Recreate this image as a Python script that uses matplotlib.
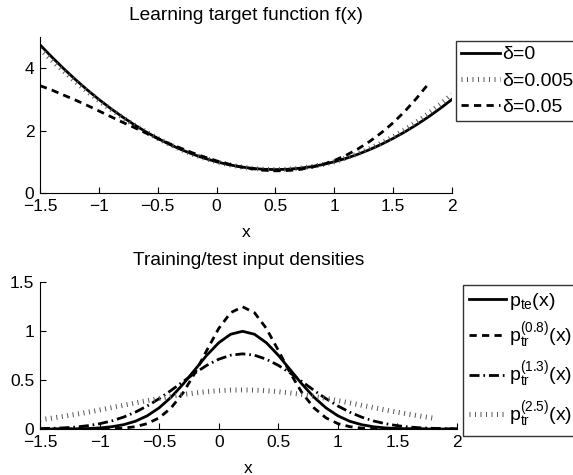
import matplotlib
matplotlib.use("Agg")
import matplotlib.pyplot as plt

plt.rcParams['font.family'] = ['Liberation Sans', 'DejaVu Sans']
plt.rcParams['mathtext.fontset'] = 'custom'
plt.rcParams['mathtext.rm'] = 'Liberation Sans'
plt.rcParams['mathtext.it'] = 'Liberation Sans:italic'

# ---- top panel: target function for three values of delta ----
x_f = [-1.5, -1.4, -1.3, -1.2, -1.1, -1.0, -0.9, -0.8, -0.7, -0.6, -0.5, -0.4,
       -0.3, -0.2, -0.1, 0.0, 0.1, 0.2, 0.3, 0.4, 0.5, 0.6, 0.7, 0.8,
       0.9, 1.0, 1.1, 1.2, 1.3, 1.4, 1.5, 1.6, 1.7, 1.8, 1.9, 2.0]
f_d0 = [4.75, 4.36, 3.99, 3.64, 3.31, 3.00, 2.71, 2.44, 2.19, 1.96, 1.75, 1.56,
        1.39, 1.24, 1.11, 1.00, 0.91, 0.84, 0.79, 0.76, 0.75, 0.76, 0.79, 0.84,
        0.91, 1.00, 1.11, 1.24, 1.39, 1.56, 1.75, 1.96, 2.19, 2.44, 2.71, 3.00]
f_d0005 = [4.62, 4.25, 3.91, 3.57, 3.26, 2.96, 2.68, 2.42, 2.18, 1.96, 1.75, 1.56,
           1.39, 1.24, 1.11, 1.00, 0.91, 0.84, 0.79, 0.76, 0.75, 0.76, 0.79, 0.84,
           0.91, 1.00, 1.12, 1.26, 1.42, 1.60, 1.80, 2.03, 2.28, 2.55, 2.84, 3.16]
f_d005 = [3.44, 3.30, 3.14, 2.98, 2.81, 2.63, 2.45, 2.27, 2.10, 1.92, 1.75, 1.58,
          1.43, 1.28, 1.15, 1.03, 0.93, 0.84, 0.78, 0.73, 0.71, 0.72, 0.75, 0.82,
          0.91, 1.04, 1.21, 1.41, 1.65, 1.93, 2.25, 2.62, 3.04, 3.50]
top_labels = ['δ=0', 'δ=0.005', 'δ=0.05']

# ---- bottom panel: densities ----
x_p = x_f
p_te = [0.000, 0.000, 0.001, 0.002, 0.005, 0.011, 0.023, 0.044, 0.079, 0.135, 0.216, 0.324,
        0.457, 0.605, 0.753, 0.880, 0.967, 0.997, 0.967, 0.880, 0.753, 0.605, 0.457, 0.324,
        0.216, 0.135, 0.079, 0.044, 0.023, 0.011, 0.005, 0.002, 0.001, 0.000, 0.000, 0.000]
p_tr08 = [0.000, 0.000, 0.000, 0.000, 0.000, 0.001, 0.003, 0.009, 0.024, 0.055, 0.114, 0.215,
          0.368, 0.571, 0.803, 1.026, 1.187, 1.247, 1.187, 1.026, 0.803, 0.571, 0.368, 0.215,
          0.114, 0.055, 0.024, 0.009, 0.003, 0.001, 0.000, 0.000, 0.000, 0.000, 0.000, 0.000]
p_tr13 = [0.004, 0.007, 0.012, 0.020, 0.034, 0.054, 0.082, 0.121, 0.172, 0.235, 0.310, 0.394,
          0.483, 0.571, 0.650, 0.712, 0.753, 0.767, 0.753, 0.712, 0.650, 0.571, 0.483, 0.394,
          0.310, 0.235, 0.172, 0.121, 0.082, 0.054, 0.034, 0.020, 0.012, 0.007, 0.004, 0.002]
p_tr25 = [0.094, 0.111, 0.130, 0.150, 0.171, 0.194, 0.218, 0.242, 0.266, 0.290, 0.312, 0.333,
          0.352, 0.368, 0.381, 0.391, 0.397, 0.399, 0.397, 0.391, 0.381, 0.368, 0.352, 0.333,
          0.312, 0.290, 0.266, 0.242, 0.218, 0.194, 0.171, 0.150, 0.130, 0.111]
bottom_labels = [r'$\mathrm{p_{te}(x)}$', r'$\mathrm{p_{tr}^{(0.8)}(x)}$',
                 r'$\mathrm{p_{tr}^{(1.3)}(x)}$', r'$\mathrm{p_{tr}^{(2.5)}(x)}$']

x_ticks = [-1.5, -1, -0.5, 0, 0.5, 1, 1.5, 2]
x_ticklabels = ['\u22121.5', '\u22121', '\u22120.5', '0', '0.5', '1', '1.5', '2']

FS = 12.5
TFS = 13.8
LFS = 14
dash = (0, (2.6, 1.9))
dot = (0, (0.2, 0.9))
dashdot = (0, (3.6, 1.4, 0.6, 1.4))
dot_color = '#5a5a5a'


def style_axes(ax, lp):
    ax.spines['top'].set_visible(False)
    ax.spines['right'].set_visible(False)
    ax.tick_params(direction='in', length=4, width=0.8, labelsize=FS, pad=4)
    ax.set_xlim(-1.5, 2)
    ax.set_xticks(x_ticks)
    ax.set_xticklabels(x_ticklabels)
    ax.set_xlabel('x', fontsize=FS, labelpad=lp)


fig = plt.figure(figsize=(5.73, 4.75), dpi=100)

ax1 = fig.add_axes([0.0698, 0.5937, 0.719, 0.3284])
ax1.plot(x_f, f_d0, color='black', lw=2, label=top_labels[0])
ax1.plot(x_f, f_d0005, color=dot_color, lw=3.6, ls=dot, dash_capstyle='butt',
         label=top_labels[1])
ax1.plot(x_f[:len(f_d005)], f_d005, color='black', lw=2, ls=dash, label=top_labels[2])
style_axes(ax1, 8)
ax1.set_ylim(0, 5)
ax1.set_yticks([0, 2, 4])
ax1.set_title('Learning target function f(x)', fontsize=TFS, pad=12)
leg1 = ax1.legend(loc='upper left', bbox_to_anchor=(0.7958, 0.9137),
                  bbox_transform=fig.transFigure, fontsize=LFS, frameon=True,
                  fancybox=False, edgecolor='black', handlelength=2.0,
                  handletextpad=0.1, borderpad=0.25, labelspacing=0.45,
                  borderaxespad=0)
leg1.get_frame().set_linewidth(1.0)

ax2 = fig.add_axes([0.0698, 0.0968, 0.7278, 0.3095])
ax2.plot(x_p, p_te, color='black', lw=2, label=bottom_labels[0])
ax2.plot(x_p, p_tr08, color='black', lw=2, ls=dash, label=bottom_labels[1])
ax2.plot(x_p, p_tr13, color='black', lw=2, ls=dashdot, label=bottom_labels[2])
ax2.plot(x_p[:len(p_tr25)], p_tr25, color=dot_color, lw=3.6, ls=dot,
         dash_capstyle='butt', label=bottom_labels[3])
style_axes(ax2, 8)
ax2.set_ylim(0, 1.5)
ax2.set_yticks([0, 0.5, 1, 1.5])
ax2.set_yticklabels(['0', '0.5', '1', '1.5'])
ax2.set_title('Training/test input densities', fontsize=TFS, pad=12)
leg2 = ax2.legend(loc='upper left', bbox_to_anchor=(0.808, 0.40),
                  bbox_transform=fig.transFigure, fontsize=LFS, frameon=True,
                  fancybox=False, edgecolor='black', handlelength=1.9,
                  handletextpad=0.15, borderpad=0.3, labelspacing=0.45,
                  borderaxespad=0)
leg2.get_frame().set_linewidth(1.0)

fig.savefig('out.png', dpi=100)
